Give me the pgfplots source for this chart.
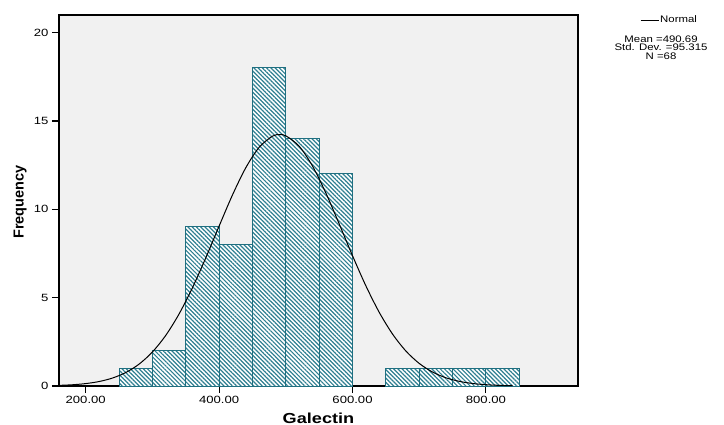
\documentclass[border=0pt]{standalone}
\usepackage{pgfplots}
\pgfplotsset{compat=1.18}
\usepackage{fontspec}
\setmainfont{Liberation Sans}
\newfontfamily\wide[FakeStretch=1.25]{Liberation Sans}
\newfontfamily\legf[FakeStretch=1.2]{Liberation Sans}
\usetikzlibrary{patterns.meta}
\definecolor{plotbg}{HTML}{F1F1F1}
\definecolor{hatch}{HTML}{2F7F91}
\definecolor{baredge}{HTML}{1F6F80}

\begin{document}
\begin{tikzpicture}
\useasboundingbox (0,0) rectangle (724bp,425bp);
\begin{axis}[at={(59bp,39bp)}, anchor=south west,
  scale only axis, width=519bp, height=371bp,
  xmin=160, xmax=938, ymin=0, ymax=21,
  axis background/.style={fill=plotbg},
  axis line style={line width=1.5bp},
  tick pos=left, tick align=outside, major tick length=7bp,
  tick style={line width=1.1bp, black},
  xtick={200,400,600,800}, xticklabels={200.00,400.00,600.00,800.00},
  ytick={0,5,10,15,20}, yticklabels={0,5,10,15,20},
  tick label style={font=\wide\fontsize{10.5bp}{12bp}\selectfont},
  xlabel={Galectin},
  xlabel style={font=\wide\bfseries\fontsize{14.5bp}{16bp}\selectfont,
    at={(axis description cs:0.5,0)}, anchor=center, yshift=-32bp},
  ylabel={Frequency},
  ylabel style={font=\bfseries\fontsize{14.5bp}{16bp}\selectfont,
    at={(axis description cs:-0.0751,0.496)}, anchor=center},
  legend style={at={(rel axis cs:1.1195,0.9865)}, anchor=west, draw=none, fill=none,
    inner sep=0pt, font=\legf\fontsize{9.5bp}{10bp}\selectfont,
    nodes={inner sep=1pt}},
  legend image code/.code={\draw[#1] (0bp,0bp) -- (18bp,0bp);},
  clip=false]
  \addplot[ybar interval, forget plot, draw=baredge, line width=1bp, fill=white,
    postaction={pattern={Lines[angle=-45,distance=3bp,line width=1.2bp]}, pattern color=hatch}]
    coordinates {(250,1) (300,2) (350,9) (400,8) (450,18) (500,14) (550,12) (600,0)};
  \addplot[ybar interval, forget plot, draw=baredge, line width=1bp, fill=white,
    postaction={pattern={Lines[angle=-45,distance=3bp,line width=1.2bp]}, pattern color=hatch}]
    coordinates {(650,1) (700,1) (750,1) (800,1) (850,0)};
  \addplot[black, line width=1bp, smooth, no marks] coordinates {
    (160,0.035) (180,0.070) (200,0.136) (220,0.252) (240,0.448) (260,0.761)
    (280,1.237) (300,1.924) (320,2.863) (340,4.078) (360,5.559) (380,7.251)
    (400,9.050) (420,10.809) (440,12.354) (460,13.512) (480,14.142) (490.69,14.231)
    (500,14.163) (520,13.574) (540,12.449) (560,10.926) (580,9.175) (600,7.374)
    (620,5.670) (640,4.172) (660,2.939) (680,1.980) (700,1.277) (720,0.788)
    (740,0.465) (760,0.263) (780,0.142) (800,0.074) (820,0.036) (840,0.017)};
  \addlegendentry{Normal}
  \node[align=center, font=\legf\fontsize{9.5bp}{8.5bp}\selectfont, anchor=north]
    at (rel axis cs:1.16,0.954) {Mean =490.69\\Std. Dev. =95.315\\N =68};
\end{axis}
\end{tikzpicture}
\end{document}
